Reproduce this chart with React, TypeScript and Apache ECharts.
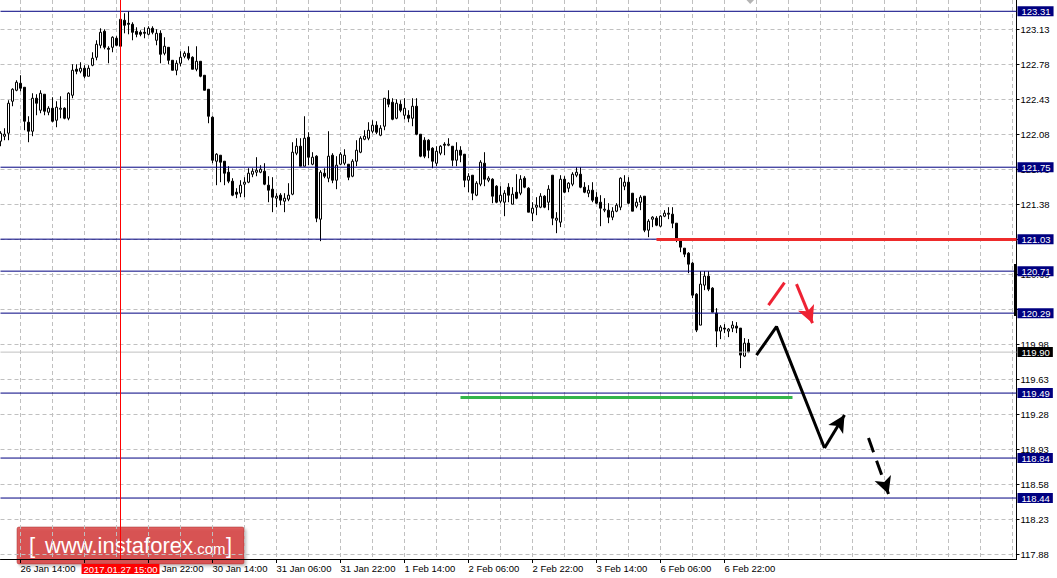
import React, { useEffect, useRef } from "react";
import * as echarts from "echarts";

// ---- Candles (H1), 26 Jan 09:00 .. 7 Feb 04:00 ----
const OPEN = [
  122.01, 122.06, 122.09, 122.41, 122.52, 122.59, 122.55, 122.2, 122.11, 122.44,
  122.32, 122.48, 122.3, 122.34, 122.22, 122.33, 122.34, 122.24, 122.47, 122.73,
  122.71, 122.74, 122.66, 122.77, 122.85, 122.97, 123.11, 122.94, 122.95, 123.04,
  122.96, 123.22, 123.19, 123.18, 123.11, 123.1, 123.1, 123.08, 123.14, 123.02,
  123.09, 122.89, 122.95, 122.82, 122.72, 122.79, 122.86, 122.89, 122.85, 122.73,
  122.81, 122.67, 122.53, 122.25, 121.81, 121.87, 121.81, 121.7, 121.61, 121.5,
  121.49, 121.58, 121.6, 121.68, 121.7, 121.7, 121.71, 121.57, 121.53, 121.44,
  121.47, 121.41, 121.43, 121.48, 121.89, 121.96, 121.76, 122.05, 121.78, 121.86,
  121.23, 121.69, 121.64, 121.87, 121.62, 121.78, 121.79, 121.78, 121.66, 121.81,
  121.9, 122.03, 122.04, 122.11, 122.17, 122.07, 122.16, 122.43, 122.4, 122.24,
  122.38, 122.27, 122.27, 122.24, 122.36, 122.08, 122.02, 122.02, 121.94, 121.79,
  121.89, 121.98, 121.97, 121.96, 121.82, 121.92, 121.88, 121.62, 121.67, 121.47,
  121.58, 121.79, 121.62, 121.63, 121.56, 121.41, 121.4, 121.55, 121.38, 121.5,
  121.49, 121.64, 121.54, 121.29, 121.35, 121.35, 121.46, 121.4, 121.67, 121.22,
  121.2, 121.63, 121.54, 121.58, 121.67, 121.68, 121.55, 121.49, 121.52, 121.45,
  121.4, 121.32, 121.32, 121.25, 121.31, 121.35, 121.56, 121.6, 121.49, 121.36,
  121.4, 121.46, 121.12, 121.23, 121.24, 121.16, 121.26, 121.29, 121.28, 121.19,
  121.03, 120.94, 120.89, 120.79, 120.48, 120.17, 120.57, 120.66, 120.54, 120.29,
  120.11, 120.14, 120.11, 120.14, 120.16, 120.14, 119.86, 119.99,
];
const CLOSE = [
  122.09, 122.08, 122.39, 122.53, 122.6, 122.54, 122.21, 122.11, 122.44, 122.39,
  122.49, 122.31, 122.34, 122.21, 122.35, 122.34, 122.24, 122.49, 122.72, 122.71,
  122.74, 122.66, 122.74, 122.84, 122.98, 123.1, 122.95, 122.93, 123.05, 122.97,
  123.23, 123.17, 123.18, 123.1, 123.08, 123.08, 123.09, 123.14, 123.1, 123.09,
  122.88, 122.96, 122.82, 122.72, 122.79, 122.85, 122.89, 122.84, 122.73, 122.81,
  122.66, 122.52, 122.26, 121.82, 121.88, 121.8, 121.69, 121.61, 121.47, 121.48,
  121.57, 121.6, 121.69, 121.71, 121.72, 121.73, 121.58, 121.52, 121.45, 121.46,
  121.42, 121.44, 121.47, 121.9, 121.96, 121.76, 122.04, 121.85, 121.85, 121.24,
  121.7, 121.66, 121.86, 121.62, 121.77, 121.88, 121.87, 121.65, 121.81, 121.92,
  122.04, 122.06, 122.12, 122.17, 122.1, 122.14, 122.44, 122.38, 122.23, 122.39,
  122.32, 122.34, 122.24, 122.36, 122.08, 121.86, 121.86, 121.92, 121.81, 121.91,
  121.96, 121.97, 121.98, 121.82, 121.92, 121.87, 121.62, 121.66, 121.49, 121.59,
  121.8, 121.63, 121.64, 121.46, 121.4, 121.47, 121.49, 121.47, 121.48, 121.44,
  121.63, 121.55, 121.3, 121.34, 121.37, 121.46, 121.35, 121.53, 121.24, 121.24,
  121.63, 121.5, 121.59, 121.68, 121.7, 121.55, 121.5, 121.52, 121.42, 121.39,
  121.34, 121.33, 121.25, 121.31, 121.37, 121.64, 121.6, 121.39, 121.31, 121.4,
  121.45, 121.12, 121.21, 121.25, 121.17, 121.26, 121.29, 121.28, 121.19, 121.02,
  120.95, 120.88, 120.78, 120.47, 120.12, 120.58, 120.66, 120.53, 120.3, 120.11,
  120.15, 120.13, 120.13, 120.17, 120.14, 119.87, 119.99, 119.9,
];
const LOW = [
  121.96, 122.02, 122.02, 122.36, 122.51, 122.51, 122.12, 122.0, 122.06, 122.27,
  122.29, 122.27, 122.27, 122.2, 122.15, 122.24, 122.23, 122.22, 122.44, 122.68,
  122.69, 122.64, 122.66, 122.76, 122.82, 122.94, 122.93, 122.79, 122.9, 122.96,
  122.96, 123.09, 123.08, 123.02, 123.05, 123.06, 123.04, 123.07, 123.08, 122.97,
  122.79, 122.87, 122.78, 122.72, 122.67, 122.76, 122.84, 122.82, 122.73, 122.71,
  122.65, 122.52, 122.19, 121.79, 121.57, 121.6, 121.57, 121.59, 121.46, 121.44,
  121.45, 121.45, 121.59, 121.65, 121.66, 121.69, 121.57, 121.4, 121.3, 121.35,
  121.37, 121.3, 121.41, 121.47, 121.87, 121.76, 121.76, 121.77, 121.77, 121.2,
  121.01, 121.64, 121.6, 121.59, 121.53, 121.77, 121.77, 121.62, 121.65, 121.76,
  121.89, 122.02, 122.02, 122.09, 122.08, 122.06, 122.12, 122.35, 122.22, 122.23,
  122.3, 122.23, 122.2, 122.16, 122.07, 121.85, 121.84, 121.84, 121.74, 121.76,
  121.87, 121.87, 121.96, 121.76, 121.76, 121.8, 121.55, 121.5, 121.42, 121.46,
  121.56, 121.56, 121.6, 121.39, 121.39, 121.39, 121.26, 121.4, 121.38, 121.43,
  121.47, 121.54, 121.3, 121.21, 121.27, 121.34, 121.34, 121.32, 121.17, 121.09,
  121.15, 121.49, 121.5, 121.56, 121.65, 121.54, 121.49, 121.45, 121.4, 121.38,
  121.16, 121.3, 121.19, 121.22, 121.3, 121.32, 121.52, 121.38, 121.31, 121.34,
  121.32, 121.1, 121.05, 121.15, 121.16, 121.15, 121.25, 121.23, 121.14, 121.0,
  120.9, 120.85, 120.69, 120.44, 120.1, 120.17, 120.52, 120.51, 120.3, 119.95,
  120.03, 120.09, 120.05, 120.1, 120.09, 119.74, 119.85, 119.89,
];
const HIGH = [
  122.11, 122.14, 122.42, 122.54, 122.62, 122.67, 122.55, 122.26, 122.49, 122.48,
  122.52, 122.48, 122.36, 122.45, 122.41, 122.46, 122.35, 122.5, 122.78, 122.78,
  122.8, 122.77, 122.77, 122.9, 123.02, 123.14, 123.13, 122.96, 123.06, 123.06,
  123.24, 123.29, 123.31, 123.2, 123.15, 123.12, 123.15, 123.16, 123.16, 123.13,
  123.12, 123.05, 122.95, 122.82, 122.82, 122.91, 122.91, 122.96, 122.86, 122.96,
  122.81, 122.67, 122.53, 122.26, 121.89, 121.87, 121.81, 121.76, 121.64, 121.54,
  121.62, 121.65, 121.74, 121.74, 121.85, 121.77, 121.79, 121.66, 121.65, 121.49,
  121.49, 121.49, 121.59, 122.0, 122.04, 122.04, 122.26, 122.1, 121.9, 121.87,
  121.72, 121.74, 122.11, 121.89, 121.86, 121.9, 121.93, 121.78, 121.83, 122.02,
  122.06, 122.12, 122.2, 122.22, 122.21, 122.17, 122.44, 122.52, 122.44, 122.43,
  122.42, 122.44, 122.32, 122.44, 122.44, 122.08, 122.05, 122.03, 121.95, 121.96,
  121.97, 122.0, 122.04, 121.96, 122.0, 121.96, 121.88, 121.69, 121.67, 121.61,
  121.82, 121.9, 121.66, 121.64, 121.57, 121.56, 121.52, 121.59, 121.55, 121.68,
  121.67, 121.66, 121.55, 121.4, 121.45, 121.49, 121.47, 121.57, 121.67, 121.3,
  121.67, 121.66, 121.6, 121.7, 121.75, 121.75, 121.6, 121.57, 121.6, 121.5,
  121.47, 121.44, 121.39, 121.35, 121.39, 121.65, 121.67, 121.65, 121.49, 121.44,
  121.47, 121.46, 121.23, 121.26, 121.26, 121.27, 121.32, 121.35, 121.35, 121.19,
  121.04, 120.94, 120.9, 120.8, 120.49, 120.71, 120.71, 120.71, 120.55, 120.34,
  120.17, 120.18, 120.14, 120.21, 120.2, 120.14, 120.04, 120.03,
];

// ---- Axes ----
const FIRST_HOUR_UTC = Date.UTC(2017, 0, 26, 9);
const CATEGORY_COUNT = 255;
const MONTHS = ["Jan", "Feb", "Mar", "Apr", "May", "Jun", "Jul", "Aug", "Sep", "Oct", "Nov", "Dec"];
const TICK_TIMES = [
  "26 Jan 14:00", "27 Jan 06:00", "27 Jan 22:00", "30 Jan 14:00", "31 Jan 06:00", "31 Jan 22:00",
  "1 Feb 14:00", "2 Feb 06:00", "2 Feb 22:00", "3 Feb 14:00", "6 Feb 06:00", "6 Feb 22:00",
];
// "27 Jan 06:00" lies under the red time marker box, so it is not printed
const TICK_LABELS = TICK_TIMES.filter((t) => t !== "27 Jan 06:00");
const PRICE_TICKS = [
  117.88, 118.23, 118.58, 118.93, 119.28, 119.63, 119.98, 120.33, 120.68, 121.03, 121.38,
  121.73, 122.08, 122.43, 122.78, 123.13,
];
// 120.33 and 121.03 are fully covered by the level boxes
const PRICE_LABELS = PRICE_TICKS.filter((v) => v !== 120.33 && v !== 121.03);
const PRICE_MIN = 117.83;
const PRICE_MAX = 123.423;

// ---- Levels & annotations (category index, price) ----
const LEVELS = [123.31, 121.75, 121.03, 120.71, 120.29, 119.49, 118.84, 118.44];
const LEVEL_SPAN = [0, 254];
const CURRENT_PRICE = 119.9;
const MARKED_CATEGORY = "27 Jan 15:00";
const MARKED_LABEL = "2017.01.27 15:00";
const RED_LEVEL = [[163.8, 121.03], [254, 121.03]];
const GREEN_LEVEL = [[114.5, 119.45], [198.2, 119.45]];
const BLACK_PATH = [[189.3, 119.87], [193.75, 120.155], [205.8, 118.94]];
const BLACK_ARROW = [[206.3, 118.94], [210.9, 119.27]];
const BLACK_DASH_ARROW = [[217, 119.04], [221.9, 118.48]];
const RED_STROKE = [[191.7, 120.37], [195.6, 120.595]];
const RED_ARROW = [[198.6, 120.58], [203.1, 120.19]];

function buildHours(startUtc: number, count: number): string[] {
  const out: string[] = [];
  let t = startUtc;
  while (out.length < count) {
    const d = new Date(t);
    const wd = d.getUTCDay();
    if (wd !== 0 && wd !== 6) {
      out.push(`${d.getUTCDate()} ${MONTHS[d.getUTCMonth()]} ${String(d.getUTCHours()).padStart(2, "0")}:00`);
    }
    t += 3600000;
  }
  return out;
}

const CATEGORIES = buildHours(FIRST_HOUR_UTC, CATEGORY_COUNT);
const FONT = "Liberation Sans";
const NAVY = "#000080";
const GRID_DASH = { color: "#c0c0c0", type: [4, 3] as any, width: 1 };

const boxLabel = (text: string, bg: string) => ({
  show: true,
  distance: 1,
  formatter: text,
  color: "#ffffff",
  backgroundColor: bg,
  padding: [1, 3, 0, 4],
  lineHeight: 9,
  fontSize: 9.5,
  fontFamily: FONT,
});

export default function App() {
  const ref = useRef<HTMLDivElement>(null);
  useEffect(() => {
    if (!ref.current) return;
    const chart = echarts.init(ref.current, undefined, { renderer: "svg" });
    const isTick = (_i: number, v: string) => TICK_TIMES.includes(v);
    const isLabel = (_i: number, v: string) => TICK_LABELS.includes(v);

    const seg = (pts: number[][], color: string, width: number, arrow: boolean, type: any = "solid") => [
      { coord: pts[0], symbol: "none", lineStyle: { color, width, type, opacity: 1 } },
      { coord: pts[1], symbol: arrow ? "arrow" : "none", symbolSize: [13, 17] },
    ];

    const levelSeries = [...LEVELS.map((v) => ({ v, color: NAVY })), { v: CURRENT_PRICE, color: "#000000" }].map(
      ({ v, color }) => ({
        type: "line",
        data: LEVEL_SPAN.map((x) => [x, v]),
        symbol: "none",
        silent: true,
        z: v === CURRENT_PRICE ? 2.5 : 3,
        lineStyle: { color: v === CURRENT_PRICE ? "#c0c0c0" : color, width: 1, type: "solid", opacity: 1 },
        itemStyle: { color },
        endLabel: boxLabel(v.toFixed(2), color),
      })
    );

    chart.setOption({
      animation: false,
      backgroundColor: "#ffffff",
      grid: { left: 0.5, right: 40.5, top: 0, bottom: 19, containLabel: false },
      xAxis: {
        type: "category",
        data: CATEGORIES,
        boundaryGap: false,
        axisLine: { show: true, lineStyle: { color: "#000", width: 1 } },
        axisTick: { show: true, interval: isTick, length: 4, lineStyle: { color: "#000" } },
        axisLabel: {
          interval: isLabel,
          align: "left",
          margin: 4,
          color: "#000",
          fontSize: 9.5,
          fontFamily: FONT,
        },
        splitLine: {
          show: true,
          interval: (i: number) => i >= 5 && (i - 5) % 8 === 0,
          lineStyle: GRID_DASH,
        },
      },
      yAxis: {
        type: "value",
        position: "right",
        min: PRICE_MIN,
        max: PRICE_MAX,
        axisLine: { show: true, lineStyle: { color: "#000", width: 1 } },
        axisTick: { show: true, customValues: PRICE_TICKS, length: 3, lineStyle: { color: "#000" } },
        axisLabel: {
          customValues: PRICE_LABELS,
          formatter: (v: number) => v.toFixed(2),
          margin: 4,
          color: "#000",
          fontSize: 9.5,
          fontFamily: FONT,
        },
        splitLine: { show: true, lineStyle: GRID_DASH },
      },
      series: [
        {
          type: "candlestick",
          data: OPEN.map((o, i) => [o, CLOSE[i], LOW[i], HIGH[i]]),
          barWidth: 2,
          z: 2,
          itemStyle: {
            color: "#ffffff",
            color0: "#000000",
            borderColor: "#000000",
            borderColor0: "#000000",
            borderWidth: 1,
          },
        },
        ...levelSeries,
        {
          // time marker
          type: "line",
          data: [],
          z: 3,
          markLine: {
            silent: true,
            symbol: ["none", "none"],
            animation: false,
            data: [
              {
                xAxis: MARKED_CATEGORY,
                lineStyle: { color: "#ff0000", width: 1, type: "solid" },
                label: {
                  show: true,
                  position: "start",
                  distance: 5,
                  formatter: MARKED_LABEL,
                  color: "#fff",
                  backgroundColor: "#ff0000",
                  padding: [1, 2, 0, 2],
                  lineHeight: 9,
                  fontSize: 9.5,
                  fontFamily: FONT,
                },
              },
            ],
          },
        },
        {
          // support / resistance strokes
          type: "line",
          data: [],
          z: 4,
          markLine: {
            silent: true,
            symbol: ["none", "none"],
            animation: false,
            label: { show: false },
            data: [
              [
                { coord: RED_LEVEL[0], lineStyle: { color: "#ee2b2b", width: 3, type: "solid", opacity: 1 } },
                { coord: RED_LEVEL[1] },
              ],
              [
                { coord: GREEN_LEVEL[0], lineStyle: { color: "#33b54a", width: 3, type: "solid", opacity: 1 } },
                { coord: GREEN_LEVEL[1] },
              ],
            ],
          },
        },
        {
          type: "line",
          data: BLACK_PATH,
          symbol: "none",
          z: 5,
          lineStyle: { color: "#000", width: 3 },
          markLine: {
            silent: true,
            animation: false,
            label: { show: false },
            data: [
              seg(BLACK_ARROW, "#000", 3, true),
              seg(BLACK_DASH_ARROW, "#000", 3, true, [15, 9]),
              seg(RED_STROKE, "#ee2233", 3, false),
              seg(RED_ARROW, "#ee2233", 3, true),
            ],
          },
        },
      ],
      graphic: [
        { type: "rect", shape: { x: 1014, y: 264, width: 3, height: 52 }, style: { fill: "#000" }, z: 10 },
        { type: "polygon", shape: { points: [[746.5, 0], [754, 0], [750.2, 4]] }, style: { fill: "#b4b4b4" }, z: 10 },
        {
          type: "group",
          z: 20,
          children: [
            {
              type: "rect",
              shape: { x: 17, y: 527, width: 227, height: 37, r: 2 },
              style: {
                fill: "rgba(214,40,40,0.72)",
                stroke: "rgba(160,30,30,0.45)",
                lineWidth: 1,
                shadowColor: "rgba(0,0,0,0.35)",
                shadowBlur: 3,
                shadowOffsetX: 2,
                shadowOffsetY: 2,
              },
            },
            {
              type: "text",
              x: 29,
              y: 545.5,
              style: { text: "[", fill: "#fff", font: `22px ${FONT}`, verticalAlign: "middle" },
            },
            {
              type: "text",
              x: 45,
              y: 545.5,
              style: { text: "www.instaforex", fill: "#fff", font: `22px ${FONT}`, verticalAlign: "middle" },
            },
            {
              type: "text",
              x: 193,
              y: 548,
              style: { text: ".com", fill: "#fff", font: `15px ${FONT}`, verticalAlign: "middle" },
            },
            {
              type: "text",
              x: 226,
              y: 545.5,
              style: { text: "]", fill: "#fff", font: `22px ${FONT}`, verticalAlign: "middle" },
            },
          ],
        },
      ],
    });
    return () => chart.dispose();
  }, []);

  return (
    <div
      ref={ref}
      style={{ position: "fixed", left: 0, top: 0, width: 1057, height: 578, background: "#fff" }}
    />
  );
}
